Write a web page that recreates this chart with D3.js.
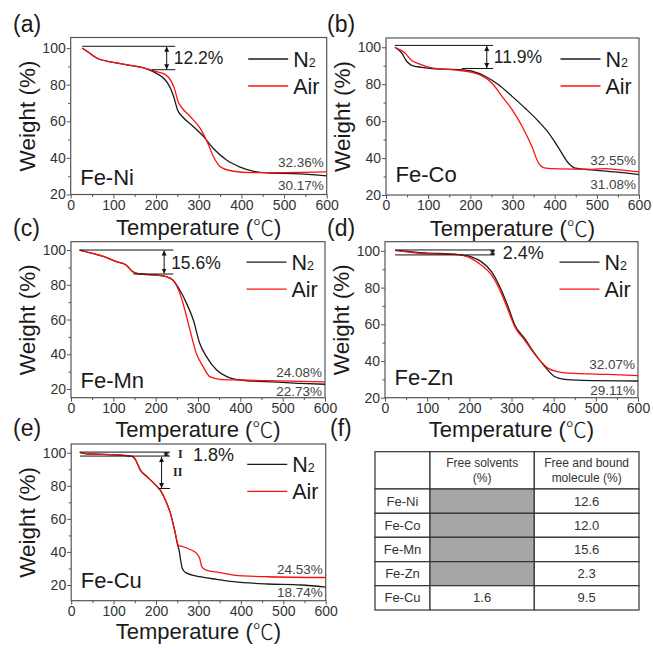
<!DOCTYPE html>
<html><head><meta charset="utf-8">
<script src="https://cdn.jsdelivr.net/npm/d3@7"></script>
<style>body{margin:0;background:#fff}svg{display:block}</style>
</head><body>
<svg id="chart" width="653" height="648"></svg>
<script>
// ---------- DATA (temperature °C, weight %) ----------
const feNiN2  = [[27,100],[40,98],[61,94.6],[100,92.2],[139,90.6],[178,88.7],[201,86.2],[220,83],[233,78.5],[242,73],[250,66.5],[262,62.5],[284,57.8],[312,51.5],[335,45],[366,38.7],[397,35],[429,32.7],[460,31.8],[538,31.3],[600,30.17]];
const feNiAir = [[27,100],[40,98],[61,94.6],[100,92.2],[139,90.6],[178,88.8],[201,87.2],[222,85.5],[234,82.5],[243,78],[252,70.6],[262,67],[281,62.4],[304,56],[320,48.7],[335,40.5],[351,35.1],[382,32.7],[421,32],[499,32],[600,32.36]];
const feCoN2  = [[21,100],[37,96.9],[49,92.4],[61,90.2],[85,89.1],[109,88.4],[172,87.9],[204,87],[235,84.3],[267,79.7],[299,73.4],[330,67],[362,59.8],[386,53.5],[410,45.3],[433,37.2],[449,34.5],[489,33.6],[544,32.5],[600,31.08]];
const feCoAir = [[21,100],[45,96.9],[61,92.8],[77,91.1],[109,88.8],[172,87.5],[204,86.4],[227,84.6],[251,80.6],[275,73.4],[299,66.2],[323,57.1],[346,46.2],[362,37.2],[378,34.5],[410,34.1],[489,33.9],[520,34.3],[544,33.9],[600,32.55]];
const feMnN2  = [[20,100],[51,98.1],[83,95.8],[107,93.3],[130,91.4],[146,87.5],[162,86.2],[202,85.6],[225,84.7],[241,82.7],[257,77],[273,69.3],[289,59.7],[304,46.3],[320,38.6],[344,30.9],[368,27.1],[399,25.2],[462,24.2],[542,23.3],[600,22.73]];
const feMnAir = [[20,100],[51,98.1],[83,95.8],[107,93.3],[130,91.4],[146,87.5],[162,86.2],[202,85.6],[225,84.7],[241,82.5],[257,75.1],[269,65.5],[281,54],[296,40.5],[312,32.9],[328,27.1],[352,25.6],[399,25.2],[462,24.8],[600,24.08]];
const feZnN2  = [[24,100.3],[95,98.9],[174,98],[205,96.7],[229,94],[253,88.6],[276,78.6],[292,69.5],[308,59.5],[331,52.3],[355,44.1],[379,36.9],[403,31.4],[426,30],[489,29.3],[600,29.11]];
const feZnAir = [[24,100.3],[95,98.5],[174,98],[205,95.8],[229,92.2],[253,86.8],[276,76.8],[292,67.7],[308,58.6],[331,51.4],[363,41.4],[387,36],[411,34.1],[450,33.2],[529,32.7],[600,32.07]];
const feCuN2  = [[20,100.2],[36,99.4],[76,99],[139,98],[146,97.5],[152,95.6],[163,89.5],[179,85.5],[203,79.4],[210,77.4],[222,71.4],[234,63.3],[244,53],[250,45.2],[255,40],[258,35],[262,30],[270,27.5],[304,25],[343,23.4],[383,22],[462,20.6],[541,20],[600,18.74]];
const feCuAir = [[20,100.2],[36,99.4],[76,99],[139,98],[146,97.5],[152,95.6],[163,89.5],[179,85.5],[203,79.4],[210,77.4],[222,71.4],[234,63.3],[244,53],[253,44],[262,43.3],[280,41.5],[296,39],[303,36],[308,31],[318,29],[350,27.5],[383,26],[462,25],[600,24.53]];

const xMajor = [0,100,200,300,400,500,600];
const xMinor = [50,150,250,350,450,550];
const yMajor = [20,40,60,80,100];
const yMinor = [30,50,70,90];

const sampleNames  = ["Fe-Ni","Fe-Co","Fe-Mn","Fe-Zn","Fe-Cu"];
const panelLetters = ["(a)","(b)","(c)","(d)","(e)","(f)"];
const finalN2  = ["30.17%","31.08%","22.73%","29.11%","18.74%"];
const finalAir = ["32.36%","32.55%","24.08%","32.07%","24.53%"];
const lossLabels = ["12.2%","11.9%","15.6%","2.4%","1.8%"];
// annotation: [T start upper, T start lower, T end, T arrow, W upper, W lower]
const lossMarks = [[27,190,245,225,101,88.2],[21,180,254,239,101,88.5],[21,147,242,220,100,86.2],[24,24,260,255,100.5,97.8],[21,21,233,224,100.4,98]];
const stepIIMark = [205,233,213,98,78.4];

const tableRows   = ["Fe-Ni","Fe-Co","Fe-Mn","Fe-Zn","Fe-Cu"];
const tableHead   = [["",""],["Free solvents","(%)"],["Free and bound","molecule (%)"]];
const freeSolvent = [null,null,null,null,"1.6"];
const boundMolec  = ["12.6","12.0","15.6","2.3","9.5"];

// ---------- LAYOUT ----------
const SANS = "'Liberation Sans', Arial, Helvetica, sans-serif";
const layout = [
  {x0:70.7,x1:326.7,y0:37.5,y1:194.5,yDom:[20,105.8],lab:[13,32],tOff:40.5,nameDy:-10,pN2:14,pAir:-5,leg:21.5},
  {x0:386,x1:639,y0:38,y1:195,yDom:[20,105],lab:[327,32],tOff:40.5,nameDy:-13,pN2:14,pAir:-7,leg:21},
  {x0:71,x1:325,y0:241.7,y1:397.7,yDom:[15,104.8],lab:[13,236],tOff:39,nameDy:-10,pN2:11.5,pAir:-5,leg:20.5},
  {x0:385,x1:638,y0:241.7,y1:397.7,yDom:[20,105],lab:[327,236],tOff:39,nameDy:-12.7,pN2:14,pAir:-6.5,leg:20.5},
  {x0:71.2,x1:325.7,y0:444,y1:600.7,yDom:[10.5,105.3],lab:[13,436],tOff:37.8,nameDy:-13,pN2:10,pAir:-4,leg:20.3}
];
const series = [[feNiN2,feNiAir],[feCoN2,feCoAir],[feMnN2,feMnAir],[feZnN2,feZnAir],[feCuN2,feCuAir]];

const svg = d3.select("#chart");
const defs = svg.append("defs");
defs.append("marker").attr("id","ah").attr("viewBox","0 0 10 10").attr("refX",10).attr("refY",5)
  .attr("markerWidth",5).attr("markerHeight",6).attr("markerUnits","userSpaceOnUse")
  .attr("orient","auto-start-reverse").append("path").attr("d","M0,0L10,5L0,10z").attr("fill","#111");

layout.forEach((L,i)=>{
  const x = d3.scaleLinear().domain([0,600]).range([L.x0,L.x1]);
  const y = d3.scaleLinear().domain(L.yDom).range([L.y1,L.y0]);
  const g = svg.append("g");

  // axes
  g.append("g").attr("transform",`translate(0,${L.y1})`)
    .call(d3.axisBottom(x).tickValues(xMajor).tickSize(4).tickPadding(1.5).tickFormat(d3.format("d")));
  g.append("g").attr("transform",`translate(0,${L.y1})`).call(d3.axisBottom(x).tickValues(xMinor).tickSize(2.5).tickFormat(""));
  g.append("g").attr("transform",`translate(${L.x0},0)`)
    .call(d3.axisLeft(y).tickValues(yMajor).tickSize(4).tickPadding(1).tickFormat(d3.format("d")));
  g.append("g").attr("transform",`translate(${L.x0},0)`).call(d3.axisLeft(y).tickValues(yMinor).tickSize(2.5).tickFormat(""));
  g.selectAll(".domain").remove();
  g.selectAll(".tick line").attr("stroke","#555").attr("stroke-width",1);
  g.selectAll(".tick text").attr("font-family",SANS).attr("font-size",14).attr("fill","#333");

  // frame
  g.append("rect").attr("x",L.x0).attr("y",L.y0).attr("width",L.x1-L.x0).attr("height",L.y1-L.y0)
    .attr("fill","none").attr("stroke","#555").attr("stroke-width",1.2);

  // curves
  const cid = "clip"+i;
  defs.append("clipPath").attr("id",cid).append("rect").attr("x",L.x0).attr("y",L.y0).attr("width",L.x1-L.x0).attr("height",L.y1-L.y0);
  const line = d3.line().x(d=>x(d[0])).y(d=>y(d[1])).curve(d3.curveMonotoneX);
  const cg = g.append("g").attr("clip-path",`url(#${cid})`);
  cg.append("path").attr("d",line(series[i][0])).attr("fill","none").attr("stroke","#1a1a1a").attr("stroke-width",1.3);
  cg.append("path").attr("d",line(series[i][1])).attr("fill","none").attr("stroke","#ff1010").attr("stroke-width",1.3);

  // loss annotation
  const m = lossMarks[i];
  g.append("line").attr("x1",x(m[0])).attr("x2",x(m[2])).attr("y1",y(m[4])).attr("y2",y(m[4])).attr("stroke","#111").attr("stroke-width",1);
  g.append("line").attr("x1",x(m[1])).attr("x2",x(m[2])).attr("y1",y(m[5])).attr("y2",y(m[5])).attr("stroke","#111").attr("stroke-width",1);
  const gap = y(m[5]) - y(m[4]);
  if (gap > 12) {
    g.append("line").attr("x1",x(m[3])).attr("x2",x(m[3])).attr("y1",y(m[4])+0.5).attr("y2",y(m[5])-0.5)
      .attr("stroke","#111").attr("stroke-width",1).attr("marker-start","url(#ah)").attr("marker-end","url(#ah)");
  } else {
    g.append("line").attr("x1",x(m[3])).attr("x2",x(m[3])).attr("y1",y(m[4])).attr("y2",y(m[5]))
      .attr("stroke","#111").attr("stroke-width",2.2);
    g.append("line").attr("x1",x(m[3])-2.5).attr("x2",x(m[3])+2.5).attr("y1",y(m[4])+1).attr("y2",y(m[4])+1).attr("stroke","#111").attr("stroke-width",1);
    g.append("line").attr("x1",x(m[3])-2.5).attr("x2",x(m[3])+2.5).attr("y1",y(m[5])-1).attr("y2",y(m[5])-1).attr("stroke","#111").attr("stroke-width",1);
  }
  const lx = i===3 ? x(m[2])+8 : (i===4 ? x(m[2])+23 : x(m[3])+7);
  g.append("text").attr("x",lx).attr("y",(y(m[4])+y(m[5]))/2+6.5).text(lossLabels[i])
    .attr("font-family",SANS).attr("font-size",i>=3?18:17.5).attr("fill","#222");

  if (i===4) {
    const s = stepIIMark;
    g.append("line").attr("x1",x(s[0])).attr("x2",x(s[1])).attr("y1",y(s[4])).attr("y2",y(s[4])).attr("stroke","#111").attr("stroke-width",1);
    g.append("line").attr("x1",x(s[2])).attr("x2",x(s[2])).attr("y1",y(s[3])+1).attr("y2",y(s[4])-0.5)
      .attr("stroke","#111").attr("stroke-width",1).attr("marker-start","url(#ah)").attr("marker-end","url(#ah)");
    g.append("text").attr("x",x(m[2])+8).attr("y",(y(m[4])+y(m[5]))/2+4).text("I")
      .attr("font-family","'Liberation Serif','Times New Roman',serif").attr("font-weight","bold").attr("font-size",12).attr("fill","#222");
    g.append("text").attr("x",x(m[2])+3).attr("y",(y(s[3])+y(s[4]))/2+4).text("II")
      .attr("font-family","'Liberation Serif','Times New Roman',serif").attr("font-weight","bold").attr("font-size",12).attr("fill","#222");
  }

  // legend
  const legX1 = L.x1 - 38.5, legX0 = legX1 - 40;
  [["N",L.y0+L.leg,"#1a1a1a"],["Air",L.y0+L.leg+27,"#ff1010"]].forEach((e,k)=>{
    g.append("line").attr("x1",legX0).attr("x2",legX1).attr("y1",e[1]).attr("y2",e[1]).attr("stroke",e[2]).attr("stroke-width",1.3);
    const t = g.append("text").attr("x",legX1+5).attr("y",e[1]+7.5).attr("font-family",SANS).attr("font-size",21.5).attr("fill","#1a1a1a");
    t.append("tspan").text(e[0]);
    if (k===0) t.append("tspan").text("2").attr("font-size",12.5).attr("dy",0.5);
  });

  // sample name
  g.append("text").attr("x",L.x0+9.5).attr("y",L.y1+L.nameDy).text(sampleNames[i])
    .attr("font-family",SANS).attr("font-size",22).attr("fill","#1a1a1a");

  // final residues
  const pv = g.append("g").attr("font-family",SANS).attr("font-size",13.5).attr("fill","#444").attr("text-anchor","end");
  const airW = series[i][1][series[i][1].length-1][1];
  const n2W  = series[i][0][series[i][0].length-1][1];
  pv.append("text").attr("x",L.x1-3).attr("y",y(airW)+L.pAir).text(finalAir[i]);
  pv.append("text").attr("x",L.x1-3).attr("y",y(n2W)+L.pN2).text(finalN2[i]);

  // axis titles
  const tt = g.append("text").attr("x",(L.x0+L.x1)/2).attr("y",L.y1+L.tOff).attr("text-anchor","middle")
    .attr("font-family",SANS).attr("font-size",22).attr("fill","#1a1a1a");
  tt.append("tspan").text("Temperature (");
  tt.append("tspan").text("℃").attr("font-family","'Noto Sans CJK SC',sans-serif").attr("font-weight",300).attr("font-size",21);
  tt.append("tspan").text(")");
  g.append("text").attr("transform",`translate(${L.x0-36},${(L.y0+L.y1)/2}) rotate(-90)`).attr("text-anchor","middle")
    .attr("font-family",SANS).attr("font-size",22.5).attr("fill","#1a1a1a").text("Weight (%)");

  // panel letter
  svg.append("text").attr("x",L.lab[0]).attr("y",L.lab[1]).text(panelLetters[i])
    .attr("font-family",SANS).attr("font-size",23).attr("fill","#1a1a1a");
});

// ---------- TABLE (f) ----------
svg.append("text").attr("x",330).attr("y",436).text(panelLetters[5]).attr("font-family",SANS).attr("font-size",23).attr("fill","#1a1a1a");
const colX = [375,430,534.3,639];
const rowY = [451.7,489,513.3,537.3,561.7,585.7,610];
const tg = svg.append("g").attr("font-family",SANS).attr("fill","#333");
const cells = [];
tableHead.forEach((h,c)=>cells.push({r:0,c,lines:h,fill:"#fff"}));
tableRows.forEach((name,r)=>{
  cells.push({r:r+1,c:0,lines:[name],fill:"#fff"});
  cells.push({r:r+1,c:1,lines:freeSolvent[r]===null?[]:[freeSolvent[r]],fill:freeSolvent[r]===null?"#a6a6a6":"#fff"});
  cells.push({r:r+1,c:2,lines:[boundMolec[r]],fill:"#fff"});
});
cells.forEach(cl=>{
  const x0=colX[cl.c], x1=colX[cl.c+1], y0=rowY[cl.r], y1=rowY[cl.r+1];
  tg.append("rect").attr("x",x0).attr("y",y0).attr("width",x1-x0).attr("height",y1-y0)
    .attr("fill",cl.fill).attr("stroke","#333").attr("stroke-width",1.2);
  const cy=(y0+y1)/2;
  cl.lines.forEach((t,k)=>{
    const n=cl.lines.filter(s=>s!=="").length;
    const yy = n===2 ? cy + (k===0?-7.5:7.5) + 4.3 : cy + 4.6;
    tg.append("text").attr("x",(x0+x1)/2).attr("y",yy).attr("text-anchor","middle")
      .attr("font-size",cl.r===0?12:13).text(t);
  });
});
</script>
</body></html>
